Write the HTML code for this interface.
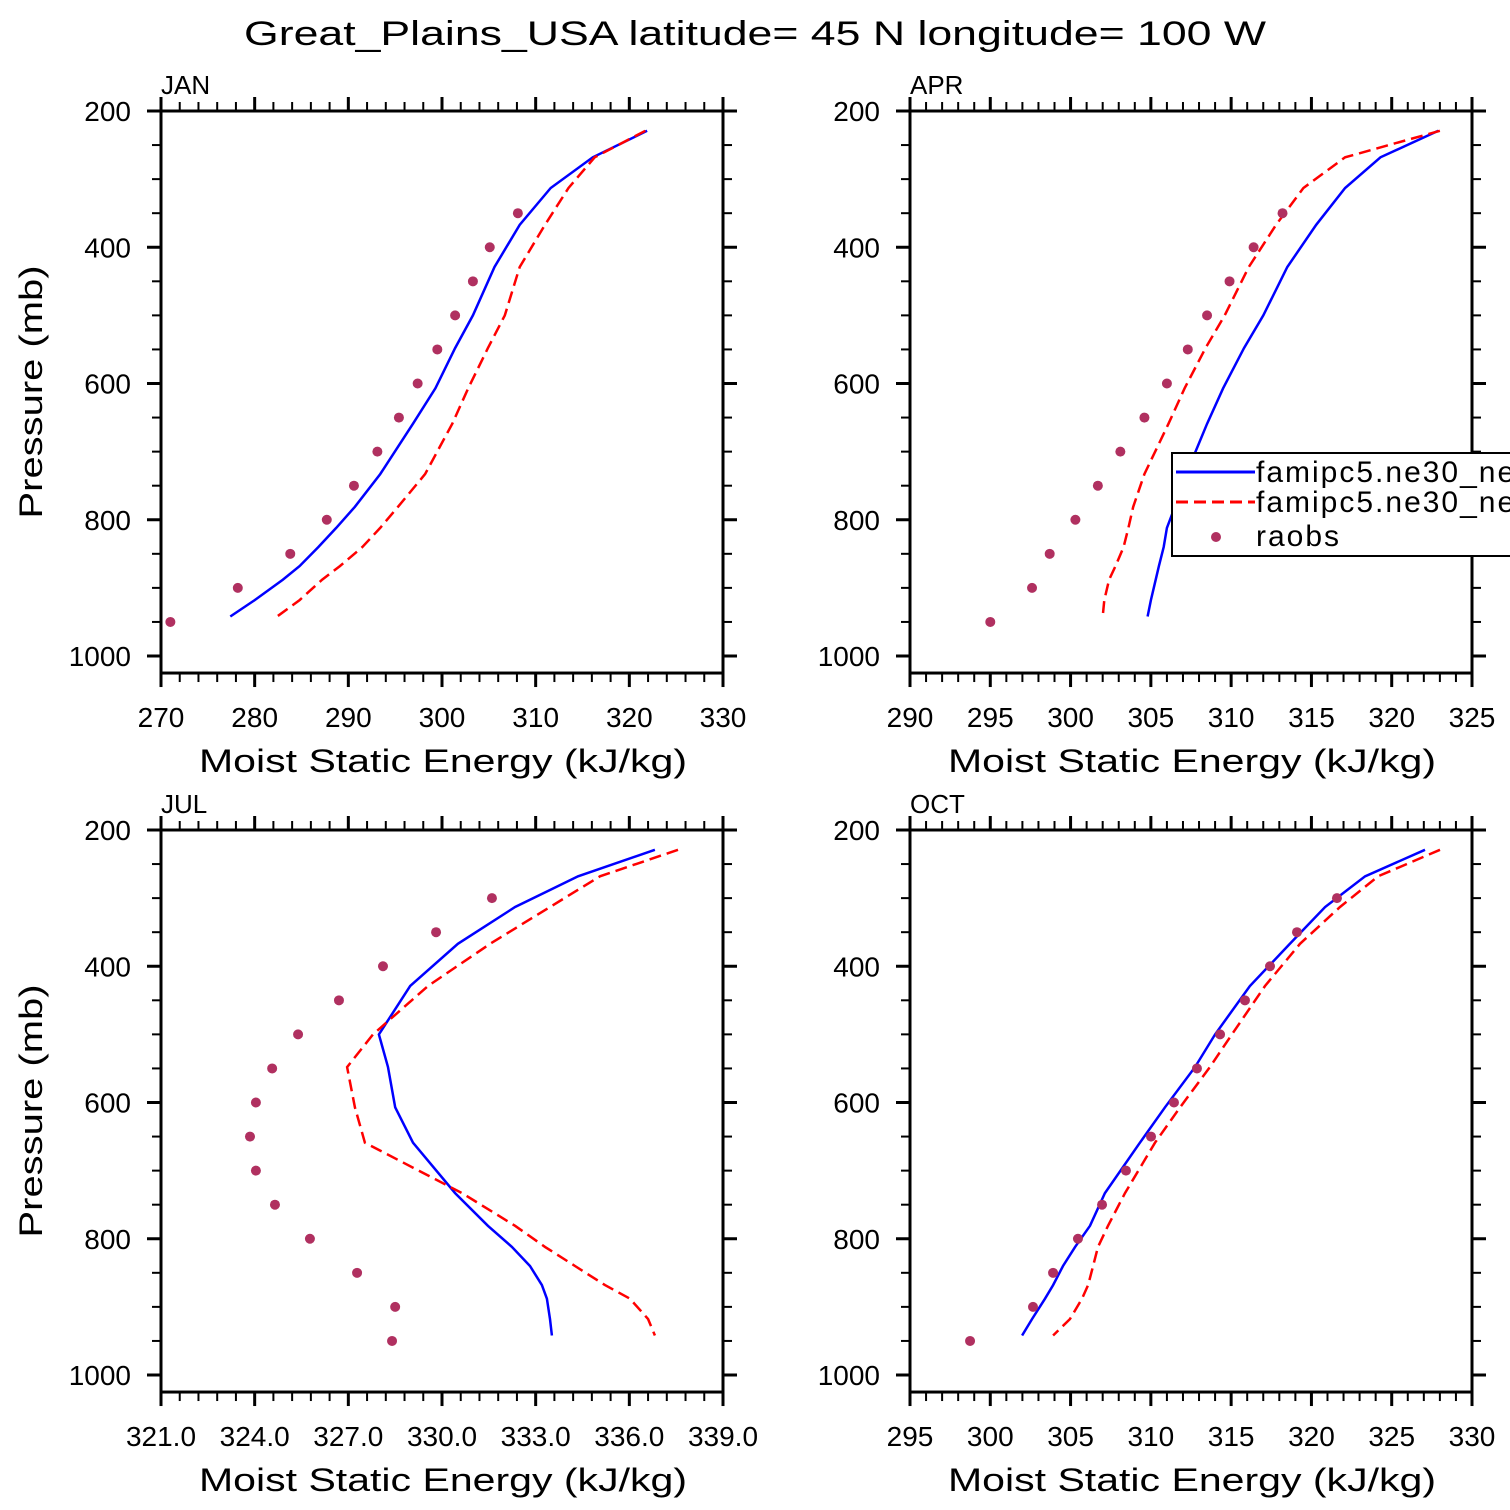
<!DOCTYPE html>
<html><head><meta charset="utf-8"><style>
html,body{margin:0;padding:0;background:#fff}
svg{display:block}
text{font-family:"Liberation Sans",sans-serif;fill:#000}
</style></head><body>
<svg id="chart" width="1510" height="1510" viewBox="0 0 1510 1510" xmlns="http://www.w3.org/2000/svg">
<text x="755" y="45" font-size="34" text-anchor="middle" textLength="1022" lengthAdjust="spacingAndGlyphs">Great_Plains_USA  latitude= 45 N longitude= 100 W</text>
</svg>
<script>
const levels=[229,268,313,367,429,500,548,607,659,733,781,812,840,868,888,918,942];
const obsLevels=[300,350,400,450,500,550,600,650,700,750,800,850,900,950];
const janModel1=[321.9,316.1,311.6,308.3,305.6,303.3,301.4,299.3,296.9,293.4,290.7,288.7,286.8,284.8,283.0,280.0,277.4];
const janModel2=[321.7,316.3,313.5,311.0,308.3,306.7,304.9,302.8,301.1,298.2,295.3,293.4,291.5,289.1,287.2,284.8,282.4];
const janObs=[null,308.1,305.1,303.3,301.4,299.5,297.4,295.4,293.1,290.6,287.7,283.8,278.2,271.0];
const aprModel1=[322.9,319.3,317.1,315.3,313.5,312.0,310.8,309.5,308.5,307.2,306.5,306.0,305.8,305.5,305.3,305.0,304.8];
const aprModel2=[323.0,317.1,314.5,312.8,311.1,309.6,308.4,307.1,306.1,304.6,303.9,303.6,303.3,302.8,302.4,302.1,302.0];
const aprObs=[null,313.2,311.4,309.9,308.5,307.3,306.0,304.6,303.1,301.7,300.3,298.7,297.6,295.0];
const julModel1=[336.82,334.36,332.34,330.51,328.98,327.98,328.27,328.50,329.07,330.42,331.47,332.24,332.82,333.20,333.36,333.46,333.52];
const julModel2=[337.56,335.06,333.46,331.54,329.55,327.79,326.96,327.21,327.53,330.64,332.34,333.30,334.26,335.22,336.02,336.60,336.82];
const julObs=[331.60,329.81,328.11,326.70,325.39,324.56,324.04,323.85,324.04,324.65,325.77,327.28,328.50,328.40];
const octModel1=[327.07,323.34,320.85,318.66,316.17,314.00,312.75,310.88,309.32,307.14,306.21,305.28,304.53,303.91,303.41,302.60,301.98];
const octModel2=[328.01,324.15,321.78,319.29,317.11,315.05,313.68,311.82,310.26,308.39,307.33,306.71,306.40,306.09,305.71,304.96,303.91];
const octObs=[321.59,319.10,317.42,315.86,314.31,312.87,311.44,310.01,308.45,306.96,305.46,303.91,302.66,298.74];
const panelNames=["JAN","APR","JUL","OCT"];
const xRanges=[[270,330],[290,325],[321,339],[295,330]];
const xMajorSteps=[10,5,3,5];
const xMinorSteps=[2,1,0.6,1];
const xDecimals=[0,0,1,0];
const yTicks=[200,400,600,800,1000];

const NS="http://www.w3.org/2000/svg";
const svg=document.getElementById('chart');
function mk(tag,attrs,parent){const e=document.createElementNS(NS,tag);for(const k in attrs)e.setAttribute(k,attrs[k]);(parent||svg).appendChild(e);return e;}
const data=[[janModel1,janModel2,janObs],[aprModel1,aprModel2,aprObs],[julModel1,julModel2,julObs],[octModel1,octModel2,octObs]];
const origins=[[161,111],[910,111],[161,830],[910,830]];
const W=562,PPM=0.68125,PBOT=1025;
data.forEach((d,i)=>{
  const [ox,oy]=origins[i];const [x0,x1]=xRanges[i];
  const xs=v=>ox+(v-x0)/(x1-x0)*W;
  const ys=p=>oy+(p-200)*PPM;
  const yb=ys(PBOT);
  const g=mk('g',{});
  
  
  const lab=mk('text',{x:ox,y:oy-17,'font-size':26},g);lab.textContent=panelNames[i];
  
  
  const n=Math.round((x1-x0)/xMinorSteps[i]);
  for(let k=0;k<=n;k++){const v=x0+k*xMinorSteps[i];const x=xs(v);
    const maj=Math.abs((v-x0)/xMajorSteps[i]-Math.round((v-x0)/xMajorSteps[i]))<1e-6;
    const L=maj?14:9;
    mk('line',{x1:x,y1:oy,x2:x,y2:oy-L,stroke:'#000','stroke-width':maj?3:2},g);
    mk('line',{x1:x,y1:yb,x2:x,y2:yb+L,stroke:'#000','stroke-width':maj?3:2},g);
    if(maj){const t=mk('text',{x:x,y:yb+54,'font-size':28,'text-anchor':'middle'},g);t.textContent=v.toFixed(xDecimals[i]);
      
      }
  }
  for(let p=200;p<=1000;p+=50){const y=ys(p);const maj=p%200===0;const L=maj?14:9;
    mk('line',{x1:ox,y1:y,x2:ox-L,y2:y,stroke:'#000','stroke-width':maj?3:2},g);
    mk('line',{x1:ox+W,y1:y,x2:ox+W+L,y2:y,stroke:'#000','stroke-width':maj?3:2},g);}
  yTicks.forEach(p=>{const t=mk('text',{x:ox-30,y:ys(p)+10,'font-size':28,'text-anchor':'end'},g);t.textContent=p;
    
    });
  mk('rect',{x:ox,y:oy,width:W,height:yb-oy,fill:'none',stroke:'#000','stroke-width':3},g);
  const xt=mk('text',{x:ox+282,y:yb+99,'font-size':32,'text-anchor':'middle',textLength:488,lengthAdjust:'spacingAndGlyphs'},g);xt.textContent='Moist Static Energy (kJ/kg)';
  
  
  if(i%2===0){const yt=mk('text',{x:0,y:0,'font-size':32,'text-anchor':'middle',textLength:253,lengthAdjust:'spacingAndGlyphs',transform:`translate(42,${oy+281}) rotate(-90)`},g);yt.textContent='Pressure (mb)';
    
    }
  const pts=a=>a.map((v,k)=>xs(v).toFixed(1)+','+ys(levels[k]).toFixed(1)).join(' ');
  const l1=mk('polyline',{points:pts(d[0]),fill:'none',stroke:'#0000ff','stroke-width':2.5},g);
  
  
  const l2=mk('polyline',{points:pts(d[1]),fill:'none',stroke:'#ff0000','stroke-width':2.5,'stroke-dasharray':'12,6'},g);
  
  
  d[2].forEach((v,k)=>{if(v==null)return;const c=mk('circle',{cx:xs(v),cy:ys(obsLevels[k]),r:5,fill:'#b03060'},g);
    
    });
});
const lg=mk('g',{});


mk('rect',{x:1172,y:453,width:400,height:103,fill:'#fff',stroke:'#000','stroke-width':2},lg);
mk('line',{x1:1176,y1:472,x2:1255,y2:472,stroke:'#0000ff','stroke-width':3},lg);
mk('line',{x1:1176,y1:502,x2:1255,y2:502,stroke:'#ff0000','stroke-width':3,'stroke-dasharray':'12,6'},lg);
mk('circle',{cx:1216,cy:537,r:5,fill:'#b03060'},lg);
[['famipc5.ne30_ne30',482],['famipc5.ne30_ne30',512],['raobs',546]].forEach(([s,y])=>{const t=mk('text',{x:1256,y:y,'font-size':30,'letter-spacing':2},lg);t.textContent=s;
  
  });
</script>
</body></html>
